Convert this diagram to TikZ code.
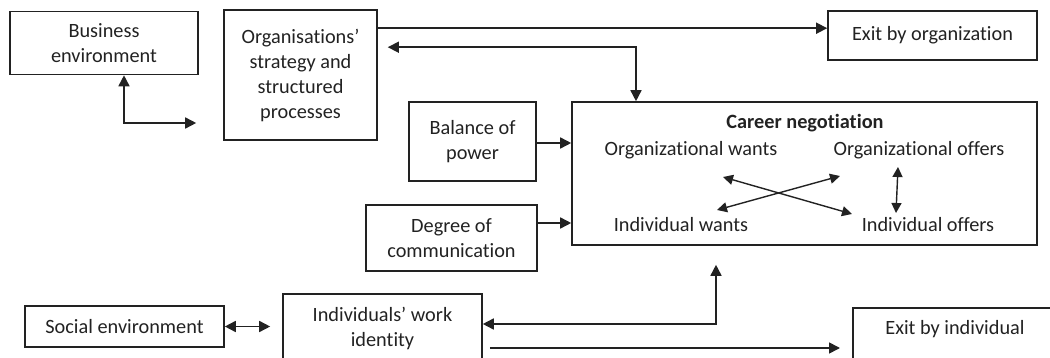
\documentclass[tikz,border=0pt]{standalone}
\usepackage{fontspec}
\setmainfont{Carlito}[Ligatures={NoCommon}]
\usetikzlibrary{arrows.meta,calc}
\definecolor{ink}{HTML}{222222}
\begin{document}
\begin{tikzpicture}[x=1pt,y=-1pt,
  box/.style={draw=ink, line width=1.6pt, inner sep=0pt, align=center, text=ink,
    font=\fontsize{20.3}{25}\selectfont},
  txt/.style={inner sep=0pt, align=center, text=ink, font=\fontsize{20.3}{25}\selectfont},
  conn/.style={draw=ink, line width=1.6pt},
  arr/.style={conn, -{Triangle[length=11pt,width=11pt]}},
  dbl/.style={conn, {Triangle[length=11pt,width=11pt]}-{Triangle[length=11pt,width=11pt]}},
  dbls/.style={conn, line width=1.4pt, {Triangle[length=10pt,width=10pt]}-{Triangle[length=10pt,width=10pt]}}
]
\useasboundingbox (0,0) rectangle (1050,358);

\node[box, minimum width=188pt, minimum height=63pt] (be) at (104,43) {Business\\environment};
\node[box, minimum width=153pt, minimum height=130pt] (org) at (300.5,75) {Organisations’\\strategy and\\structured\\processes};
\node[box, minimum width=209pt, minimum height=49pt] (exo) at (932.5,35.5) {Exit by organization};
\node[box, minimum width=127pt, minimum height=79pt] (bal) at (472.5,141.5) {Balance of\\power};
\node[box, minimum width=465pt, minimum height=143pt] (car) at (804.5,173.5) {};
\node[txt, font=\fontsize{20.3}{25}\selectfont\bfseries] (cn) at (805,123) {Career negotiation};
\node[txt] (ow) at (691,150) {Organizational wants};
\node[txt] (oo) at (919,150) {Organizational offers};
\node[txt] (iw) at (681,225) {Individual wants};
\node[txt] (io) at (928,225) {Individual offers};
\node[box, minimum width=171pt, minimum height=66pt] (deg) at (451.5,238) {Degree of\\communication};
\node[box, minimum width=199pt, minimum height=41pt] (soc) at (124.5,326.5) {Social environment};
\node[box, minimum width=199pt, minimum height=68pt] (ind) at (382.5,328) {Individuals’ work\\identity};
\node[box, minimum width=208pt, minimum height=63pt, anchor=north west] (exi) at (852,307) {};
\node[txt] (exit) at (955,329) {Exit by individual};

% business <-> organisation
\coordinate (c1) at ($(org.west)+(-27,48)$);
\draw[dbl] (c1) -| ([xshift=20pt]be.south);
% organisation -> exit by organization
\coordinate (y29) at ($(org.north east)+(0,19)$);
\draw[arr] (y29) -- (exo.west |- y29);
% organisation <-> career
\coordinate (c2) at ($(org.north east)+(10,38)$);
\draw[dbl] (c2) -| ([xshift=-168.5pt]car.north);
% balance -> career
\coordinate (b1) at ($(bal.east)+(0,1.5)$);
\draw[arr] (b1) -- (car.west |- b1);
% degree -> career
\coordinate (d1) at ($(deg.east)+(0,-15)$);
\draw[arr] (d1) -- (car.west |- d1);
% career <-> individuals
\coordinate (c3) at ($(car.south)+(-88.5,19)$);
\draw[dbl] (c3) |- ($(ind.east)+(0,-4)$);
% individuals -> exit by individual
\coordinate (c4) at ($(ind.east)+(7,20)$);
\coordinate (c5) at ($(exi.north west)+(-12,41)$);
\draw[arr] (c4) -- (c5);
% social <-> individuals
\coordinate (c6) at ($(ind.west |- soc.east)+(-12,0)$);
\draw[dbl] (soc.east) -- (c6);
% inside career negotiation
\draw[dbls] ($(ow)+(32,27)$) -- ($(io)+(-76,-11)$);
\draw[dbls] ($(iw)+(36,-15)$) -- ($(oo)+(-79,26)$);
\draw[dbls] ($(oo)+(-21,17)$) -- ($(io)+(-32,-12)$);
\end{tikzpicture}
\end{document}
